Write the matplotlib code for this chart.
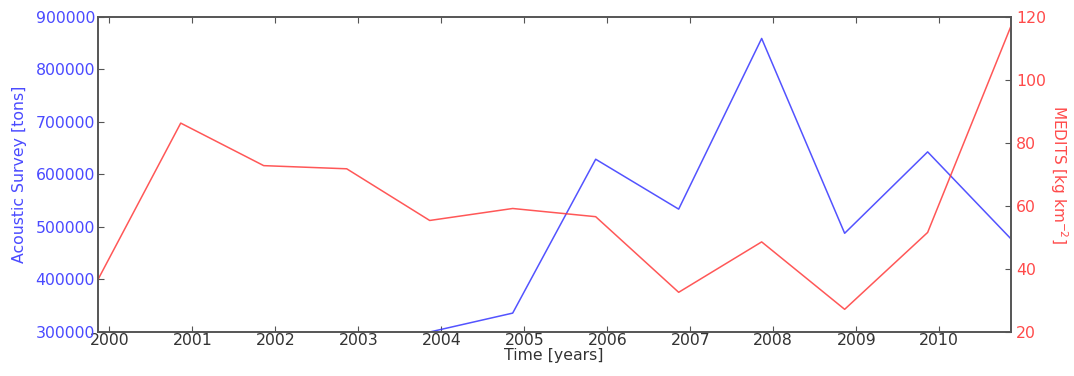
import numpy as np
import matplotlib
matplotlib.use('Agg')
import matplotlib.pyplot as plt

# survey times (decimal years)
years = np.array([1999.86, 2000.86, 2001.86, 2002.86, 2003.86, 2004.86,
                  2005.86, 2006.86, 2007.86, 2008.86, 2009.86, 2010.86])
acoustic = np.array([np.nan, np.nan, np.nan, np.nan, 300000, 336000,
                     629000, 534000, 859000, 488000, 643000, 478000])
medits = np.array([36.5, 86.3, 72.8, 71.8, 55.4, 59.2,
                   56.6, 32.6, 48.6, 27.2, 51.6, 116.8])

plt.rcParams['font.size'] = 11.3
plt.rcParams['xtick.direction'] = 'in'
plt.rcParams['ytick.direction'] = 'in'

fig = plt.figure(figsize=(10.74, 3.76), dpi=100)
ax = fig.add_axes([0.091, 0.117, 0.850, 0.838])
ax.plot(years, acoustic, color='#3535ff', lw=1.1, alpha=0.85)
ax.set_xlim(years[0], years[-1])
ax.set_ylim(300000, 900000)
ax.set_xticks(range(2000, 2011))
ax.set_ylabel('Acoustic Survey [tons]', color='#4a4aff', labelpad=6)
ax.set_xlabel('Time [years]', color='#333333', labelpad=0)
ax.tick_params(axis='y', colors='#555555', labelcolor='#4a4aff', length=4, pad=2)
ax.tick_params(axis='x', colors='#555555', labelcolor='#333333', top=True, length=4, pad=1)

ax2 = ax.twinx()
ax2.plot(years, medits, color='#ff3a3a', lw=1.1, alpha=0.85)
ax2.set_ylim(20, 120)
ax2.set_ylabel(r'MEDITS [kg km$^{-2}$]', color='#ff4a4a', rotation=270,
               va='bottom', labelpad=1, fontsize=11)
ax2.tick_params(axis='y', colors='#555555', labelcolor='#ff4a4a', length=4, pad=4)

for a in (ax, ax2):
    for s in a.spines.values():
        s.set_color('#555555')
        s.set_linewidth(1.2)

fig.savefig('out.png', dpi=100)
